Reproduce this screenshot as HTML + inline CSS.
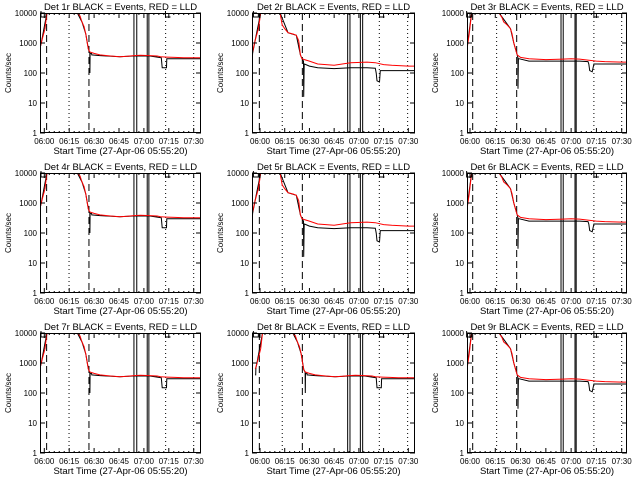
<!DOCTYPE html>
<html><head><meta charset="utf-8"><style>
html,body{margin:0;padding:0;background:#fff;width:640px;height:480px;overflow:hidden}
svg text{font-family:"Liberation Sans",sans-serif;fill:#000}
</style></head><body>
<svg id="chart" width="640" height="480" xmlns="http://www.w3.org/2000/svg"></svg>
<script>
// ---- data (minutes after 06:00, counts/sec) ----
const detLabels = ["1r","2r","3r","4r","5r","6r","7r","8r","9r"];
const panelProfile = [0,1,2,0,1,2,0,0,2];
const xTickLabels = ["06:00","06:15","06:30","06:45","07:00","07:15","07:30"];
const xTickMinutes = [0,15,30,45,60,75,90];
const yTickValues = [1,10,100,1000,10000];
const yTickLabels = ["1","10","100","1000","10000"];
// profile A
const redTA = [-3,-2.6,-1,0.4,1.6,19.7,21.5,22.7,24,25,26,26.6,27.5,30,33.5,40,45.6,50,54,58,63.6,68,70,74,78.7,84,90.7,95];
const redVA = [650,680,1500,3000,10500,10500,8000,5000,3500,2000,900,600,500,450,400,370,350,360,380,390,380,370,350,340,330,320,320,320];
const blkTA = [-3,-2.6,-2.5,-2,1.6,19.7,22.7,25,26.6,27.4,27.5,27.6,28.5,28.6,33.5,45.6,54,63.6,68,70.5,71,71.2,73.6,73.8,75,84,90.7,95];
const blkVA = [400,400,700,900,10500,10500,5000,2000,600,500,100,450,450,400,380,350,370,370,340,320,150,150,150,300,300,300,300,300];
// profile B
const redTB = [-5,-4.7,-3,-1,0.5,12.1,13.5,15,17,20,22,23.5,24.5,25.5,27,30,35,45,55,65,70,75,80,90,95];
const redVB = [400,460,1200,3000,10500,10500,4000,3000,2200,2000,1800,1200,400,300,280,250,200,180,220,230,220,190,180,170,170];
const blkTB = [-5,-4.7,-4.5,-3,0.5,12.1,17,22,24.5,25.5,26.4,26.5,26.8,27,30,35,45,55,65,70,70.5,71,72.5,73,90,95];
const blkVB = [300,300,450,1200,10500,10500,2200,1800,400,300,250,16,200,200,170,150,140,150,150,145,100,55,50,120,120,120];
// profile C
const redTC = [-3,-2,-0.5,1,17,19,20,22,24,25,26,28,30,35,45,55,60,65,70,75,80,90,95];
const redVC = [450,500,2000,10500,10500,7000,5000,4000,3000,2000,1000,400,330,300,280,290,300,290,270,250,240,230,230];
const blkTC = [-3,-2,-1.9,-1,1,17,24,26,28,28.4,28.5,28.7,29,35,45,55,65,70,70.5,71,72.5,73.5,75,90,95];
const blkVC = [350,350,600,1500,10500,10500,3000,1000,400,320,30,300,300,250,250,250,250,240,200,120,110,200,200,200,200];
const redT = [redTA,redTB,redTC], redV = [redVA,redVB,redVC];
const blkT = [blkTA,blkTB,blkTC], blkV = [blkVA,blkVB,blkVC];
// event markers (minutes) per column
const dashedEv = [[1.4,26.9],[-0.4,25.7],[1.6,27.7]];
const dottedEv = [[14.9,73.1,90],[13.5,72.4,89.6],[15.8,73.5,90]];
const solidEv = [[54,55.7,62,63],[53.2,54.6,60.9,62.3],[54,55.3,62.3,63]];
const flagEv = [[-2,1,73],[-4,-1,72.5],[-2,1,73.5]];

// ---- layout ----
const colLeft=[40,252,467], colRight=[201,415,627], colT0=[44.3,260,470], colT90=[193.7,408.3,621.7];
const NS="http://www.w3.org/2000/svg";
const svg=document.getElementById('chart');
function mk(tag,attrs,parent){const e=document.createElementNS(NS,tag);for(const k in attrs)e.setAttribute(k,attrs[k]);(parent||svg).appendChild(e);return e;}

for(let p=0;p<9;p++){
  const col=p%3,row=Math.floor(p/3),prof=panelProfile[p];
  const L=colLeft[col],R=colRight[col],T=row*160+13,B=row*160+133;
  const xs=m=>colT0[col]+(colT90[col]-colT0[col])*m/90;
  const ys=v=>B-(Math.log10(v))*(B-T)/4;
  const g=mk('g',{});
  
  
  const cid='clip'+p;
  const cp=mk('clipPath',{id:cid},g);mk('rect',{x:L,y:T,width:R-L,height:B-T},cp);
  const pg=mk('g',{'clip-path':'url(#'+cid+')'},g);
  dottedEv[col].forEach(m=>{const l=mk('line',{x1:xs(m),x2:xs(m),y1:T,y2:B,stroke:'#000','stroke-width':1,'stroke-dasharray':'1,3'},pg);
    });
  dashedEv[col].forEach(m=>{const l=mk('line',{x1:xs(m),x2:xs(m),y1:T,y2:B,stroke:'#000','stroke-width':1,'stroke-dasharray':'7,4'},pg);
    });
  solidEv[col].forEach(m=>{const l=mk('line',{x1:xs(m),x2:xs(m),y1:T,y2:B,stroke:'#000','stroke-width':1},pg);
    });
  const f=flagEv[col];
  const fl=mk('polyline',{points:`${xs(f[0])},${T-2} ${xs(f[0])},${T+4} ${xs(f[1])},${T+4} ${xs(f[1])},${T}`,fill:'none',stroke:'#000'},g);
  
  const fl2=mk('polyline',{points:`${xs(f[2])},${T-2} ${xs(f[2])},${T+4} ${xs(f[2])+5},${T+4}`,fill:'none',stroke:'#000'},g);
  
  const bp=blkT[prof].map((t,i)=>xs(t).toFixed(1)+','+ys(blkV[prof][i]).toFixed(1)).join(' ');
  const bl=mk('polyline',{points:bp,fill:'none',stroke:'#000','stroke-width':1},pg);
  
  const rp=redT[prof].map((t,i)=>xs(t).toFixed(1)+','+ys(redV[prof][i]).toFixed(1)).join(' ');
  const rl=mk('polyline',{points:rp,fill:'none',stroke:'#f00','stroke-width':1},pg);
  
  const bx=mk('rect',{x:L+0.5,y:T+0.5,width:R-L-1,height:B-T-1,fill:'none',stroke:'#000'},g);
  
  yTickValues.forEach((v,i)=>{const y=ys(v);
    mk('line',{x1:L,x2:L+5,y1:y,y2:y,stroke:'#000'},g);mk('line',{x1:R-5,x2:R,y1:y,y2:y,stroke:'#000'},g);
    const t=mk('text',{x:L-3,y:y+3,'font-size':8,'text-anchor':'end'},g);t.textContent=yTickLabels[i];
    });
  for(let m=0;m<=90;m+=3){const x=xs(m),len=(m%15===0)?5:2;
    mk('line',{x1:x,x2:x,y1:B-len,y2:B,stroke:'#000'},g);mk('line',{x1:x,x2:x,y1:T,y2:T+len,stroke:'#000'},g);}
  xTickMinutes.forEach((m,i)=>{const t=mk('text',{x:xs(m),y:B+11,'font-size':8,'text-anchor':'middle'},g);t.textContent=xTickLabels[i];
    });
  const xt=mk('text',{x:(L+R)/2,y:B+21,'font-size':9.5,'text-anchor':'middle'},g);xt.textContent='Start Time (27-Apr-06 05:55:20)';
  
  const yt=mk('text',{x:0,y:0,'font-size':8,'text-anchor':'middle',transform:`translate(${L-29},${(T+B)/2}) rotate(-90)`},g);yt.textContent='Counts/sec';
  
  const tt=mk('text',{x:(L+R)/2,y:T-3,'font-size':9.5,'text-anchor':'middle'},g);tt.textContent='Det '+detLabels[p]+' BLACK = Events, RED = LLD';
  
}
</script>
</body></html>
